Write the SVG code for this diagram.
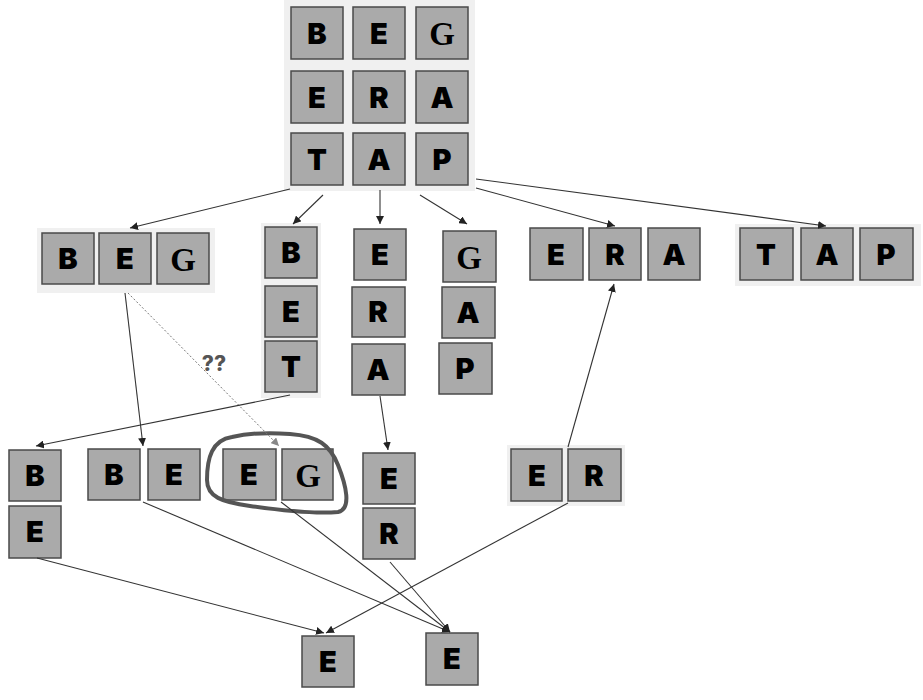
<svg xmlns="http://www.w3.org/2000/svg" width="923" height="700" viewBox="0 0 923 700">
<style>
.bg{fill:#f0f0f0}
.b{fill:#aaaaaa;stroke:#4a4a4a;stroke-width:1.5}
.t{font-family:"Inter","DejaVu Sans",sans-serif;font-weight:900;font-size:29px;fill:#000;text-anchor:middle}
.g{font-family:"Liberation Serif",serif;font-weight:bold;font-size:33px;fill:#000;text-anchor:middle}
.c{fill:none;stroke:#333;stroke-width:1.1}
.d{fill:none;stroke:#777;stroke-width:1;stroke-dasharray:2 2}
.q{font-family:"Inter","DejaVu Sans",sans-serif;font-weight:800;font-size:21px;fill:#555;text-anchor:middle}
</style>
<defs>
<marker id="ah" viewBox="0 0 10 10" refX="10" refY="5" markerWidth="8" markerHeight="8" markerUnits="userSpaceOnUse" orient="auto">
<path d="M0,0 L10,5 L0,10 z" fill="#222"/>
</marker>
<marker id="ahd" viewBox="0 0 10 10" refX="10" refY="5" markerWidth="8" markerHeight="8" markerUnits="userSpaceOnUse" orient="auto">
<path d="M0,0 L10,5 L0,10 z" fill="#888"/>
</marker>
</defs>
<rect width="923" height="700" fill="#fff"/>

<g id="n-grid">
<rect class="bg" x="284" y="0" width="191" height="191"/>
<rect class="b" x="291" y="7" width="52" height="52"/><text class="t" x="317" y="44">B</text>
<rect class="b" x="353" y="7" width="52" height="52"/><text class="t" x="379" y="44">E</text>
<rect class="b" x="416" y="7" width="52" height="52"/><text class="g" x="442" y="45">G</text>
<rect class="b" x="291" y="71" width="52" height="52"/><text class="t" x="317" y="108">E</text>
<rect class="b" x="353" y="71" width="52" height="52"/><text class="t" x="379" y="108">R</text>
<rect class="b" x="416" y="71" width="52" height="52"/><text class="t" x="442" y="108">A</text>
<rect class="b" x="291" y="133" width="52" height="52"/><text class="t" x="317" y="170">T</text>
<rect class="b" x="353" y="133" width="52" height="52"/><text class="t" x="379" y="170">A</text>
<rect class="b" x="416" y="133" width="52" height="52"/><text class="t" x="442" y="170">P</text>
</g>

<g id="n-beg">
<rect class="bg" x="37" y="228" width="178" height="65"/>
<rect class="b" x="42" y="233" width="52" height="51"/><text class="t" x="68" y="269">B</text>
<rect class="b" x="99" y="233" width="52" height="51"/><text class="t" x="125" y="269">E</text>
<rect class="b" x="157" y="233" width="52" height="51"/><text class="g" x="183" y="271">G</text>
</g>

<g id="n-bet">
<rect class="bg" x="261" y="223" width="60" height="175"/>
<rect class="b" x="265" y="227" width="52" height="51"/><text class="t" x="291" y="263">B</text>
<rect class="b" x="265" y="286" width="52" height="51"/><text class="t" x="291" y="322">E</text>
<rect class="b" x="265" y="341" width="52" height="51"/><text class="t" x="291" y="377">T</text>
</g>

<g id="n-era-v">
<rect class="b" x="354" y="229" width="52" height="51"/><text class="t" x="380" y="265">E</text>
<rect class="b" x="352" y="287" width="53" height="50"/><text class="t" x="378" y="322">R</text>
<rect class="b" x="352" y="344" width="53" height="51"/><text class="t" x="378" y="380">A</text>
</g>

<g id="n-gap">
<rect class="b" x="443" y="231" width="53" height="51"/><text class="g" x="469" y="269">G</text>
<rect class="b" x="442" y="287" width="53" height="51"/><text class="t" x="468" y="323">A</text>
<rect class="b" x="439" y="343" width="53" height="51"/><text class="t" x="465" y="379">P</text>
</g>

<g id="n-era-h">
<rect class="b" x="530" y="228" width="53" height="52"/><text class="t" x="556" y="265">E</text>
<rect class="b" x="589" y="228" width="52" height="52"/><text class="t" x="615" y="265">R</text>
<rect class="b" x="648" y="228" width="52" height="52"/><text class="t" x="674" y="265">A</text>
</g>

<g id="n-tap">
<rect class="bg" x="735" y="224" width="186" height="62"/>
<rect class="b" x="740" y="228" width="53" height="52"/><text class="t" x="766" y="265">T</text>
<rect class="b" x="801" y="228" width="52" height="52"/><text class="t" x="827" y="265">A</text>
<rect class="b" x="860" y="228" width="53" height="52"/><text class="t" x="886" y="265">P</text>
</g>

<g id="n-be-v">
<rect class="b" x="9" y="450" width="52" height="51"/><text class="t" x="35" y="486">B</text>
<rect class="b" x="9" y="506" width="52" height="52"/><text class="t" x="35" y="542">E</text>
</g>

<g id="n-be-h">
<rect class="b" x="88" y="449" width="52" height="51"/><text class="t" x="114" y="485">B</text>
<rect class="b" x="148" y="449" width="52" height="51"/><text class="t" x="174" y="485">E</text>
</g>

<g id="n-eg">
<rect class="b" x="223" y="449" width="53" height="51"/><text class="t" x="249" y="485">E</text>
<rect class="b" x="282" y="449" width="51" height="51"/><text class="g" x="308" y="487">G</text>
<path d="M232,437 C212,440 207,458 207,480 C207,497 222,502 250,506 C285,511 315,514 338,512 C352,509 346,485 338,465 C330,445 318,436 290,434 C265,432 245,434 232,437 Z" fill="none" stroke="#555" stroke-width="4" stroke-linejoin="round"/>
</g>

<g id="n-er-v">
<rect class="b" x="363" y="453" width="52" height="51"/><text class="t" x="389" y="489">E</text>
<rect class="b" x="363" y="508" width="52" height="51"/><text class="t" x="389" y="544">R</text>
</g>

<g id="n-er-h">
<rect class="bg" x="507" y="445" width="118" height="61"/>
<rect class="b" x="511" y="449" width="51" height="52"/><text class="t" x="537" y="486">E</text>
<rect class="b" x="568" y="449" width="53" height="52"/><text class="t" x="594" y="486">R</text>
</g>

<g id="n-e1">
<rect class="b" x="302" y="636" width="52" height="51"/><text class="t" x="328" y="672">E</text>
</g>

<g id="n-e2">
<rect class="b" x="426" y="633" width="52" height="52"/><text class="t" x="452" y="669">E</text>
</g>

<g id="connectors">
<line class="c" x1="290" y1="189" x2="130" y2="228" marker-end="url(#ah)"/>
<line class="c" x1="323" y1="195" x2="293" y2="224" marker-end="url(#ah)"/>
<line class="c" x1="380" y1="190" x2="380" y2="224" marker-end="url(#ah)"/>
<line class="c" x1="420" y1="195" x2="467" y2="224" marker-end="url(#ah)"/>
<line class="c" x1="476" y1="188" x2="615" y2="226" marker-end="url(#ah)"/>
<line class="c" x1="476" y1="179" x2="826" y2="226" marker-end="url(#ah)"/>
<line class="c" x1="125" y1="293" x2="143" y2="446" marker-end="url(#ah)"/>
<line class="d" x1="128" y1="293" x2="279" y2="446" marker-end="url(#ahd)"/>
<line class="c" x1="290" y1="395" x2="36" y2="446" marker-end="url(#ah)"/>
<line class="c" x1="380" y1="396" x2="388" y2="450" marker-end="url(#ah)"/>
<line class="c" x1="568" y1="447" x2="614" y2="284" marker-end="url(#ah)"/>
<line class="c" x1="37" y1="558" x2="324" y2="633" marker-end="url(#ah)"/>
<line class="c" x1="143" y1="502" x2="450" y2="632" marker-end="url(#ah)"/>
<line class="c" x1="281" y1="502" x2="450" y2="632" marker-end="url(#ah)"/>
<line class="c" x1="390" y1="562" x2="450" y2="632" marker-end="url(#ah)"/>
<line class="c" x1="568" y1="503" x2="326" y2="633" marker-end="url(#ah)"/>
<text class="q" x="214" y="371">??</text>
</g>
</svg>
